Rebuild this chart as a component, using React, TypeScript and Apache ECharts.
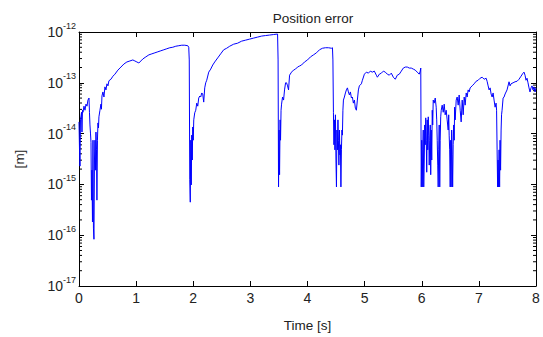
import React, { useEffect, useRef } from "react";
import * as echarts from "echarts";

const titleText = "Position error";
const xName = "Time [s]";
const yName = "[m]";
const xMin = 0;
const xMax = 8;
const yDecades = [-17, -16, -15, -14, -13, -12];
const minorMultipliers = [2, 3, 4, 5, 6, 7, 8, 9];

// [time (s), log10 of position error (m)]
const samples: [number, number][] = [
  [0.000,-13.77],[0.009,-14.32],[0.017,-14.64],[0.026,-13.73],[0.044,-13.58],[0.052,-13.97],[0.061,-13.54],[0.070,-13.58],[0.087,-13.46],[0.105,-13.54],[0.122,-13.42],[0.140,-13.46],[0.157,-13.34],[0.175,-13.30],[0.183,-13.58],[0.192,-13.83],[0.201,-13.99],[0.210,-14.17],[0.218,-15.31],[0.227,-14.72],[0.236,-15.74],[0.245,-14.13],[0.253,-15.86],[0.262,-16.08],[0.271,-14.52],[0.279,-14.13],[0.288,-14.72],[0.297,-13.97],[0.306,-14.32],[0.314,-15.31],[0.323,-14.13],[0.332,-13.79],[0.341,-13.89],[0.349,-13.67],[0.367,-13.54],[0.384,-13.42],[0.393,-13.52],[0.402,-13.26],[0.419,-13.18],[0.437,-13.28],[0.454,-13.08],[0.472,-13.14],[0.489,-13.02],[0.507,-13.06],[0.524,-12.96],[0.559,-12.93],[0.594,-12.87],[0.629,-12.83],[0.681,-12.75],[0.734,-12.69],[0.786,-12.63],[0.838,-12.59],[0.891,-12.57],[0.943,-12.55],[0.978,-12.57],[1.013,-12.59],[1.048,-12.61],[1.083,-12.57],[1.118,-12.53],[1.170,-12.49],[1.223,-12.45],[1.275,-12.43],[1.328,-12.41],[1.380,-12.39],[1.432,-12.37],[1.485,-12.35],[1.537,-12.33],[1.590,-12.31],[1.642,-12.30],[1.694,-12.28],[1.747,-12.27],[1.799,-12.26],[1.852,-12.26],[1.904,-12.27],[1.921,-12.30],[1.930,-12.55],
  [1.939,-14.91],[1.948,-15.35],[1.956,-14.13],[1.965,-15.01],[1.974,-14.03],[1.983,-14.52],[1.991,-13.87],[2.000,-14.13],[2.009,-13.73],[2.026,-13.59],[2.044,-13.54],[2.061,-13.40],[2.079,-13.46],[2.096,-13.30],[2.114,-13.26],[2.131,-13.28],[2.148,-13.20],[2.166,-13.22],[2.183,-13.38],[2.201,-13.10],[2.218,-13.00],[2.236,-12.95],[2.271,-12.79],[2.306,-12.73],[2.341,-12.65],[2.376,-12.59],[2.428,-12.51],[2.480,-12.43],[2.533,-12.35],[2.585,-12.32],[2.638,-12.28],[2.707,-12.24],[2.777,-12.22],[2.847,-12.18],[2.917,-12.16],[2.987,-12.14],[3.057,-12.12],[3.127,-12.10],[3.197,-12.08],[3.266,-12.07],[3.336,-12.06],[3.406,-12.05],[3.476,-12.04],[3.485,-12.55],
  [3.493,-15.05],[3.502,-13.93],[3.511,-14.81],[3.520,-13.73],[3.528,-14.13],[3.537,-13.54],[3.546,-13.42],[3.563,-13.28],[3.581,-13.34],[3.598,-13.14],[3.616,-13.00],[3.633,-13.00],[3.651,-13.06],[3.668,-13.14],[3.686,-12.85],[3.721,-12.79],[3.755,-12.75],[3.790,-12.73],[3.825,-12.69],[3.860,-12.67],[3.895,-12.65],[3.948,-12.59],[4.000,-12.55],[4.052,-12.49],[4.105,-12.45],[4.157,-12.41],[4.210,-12.35],[4.262,-12.32],[4.314,-12.31],[4.367,-12.31],[4.419,-12.32],[4.437,-12.31],[4.445,-12.55],
  [4.454,-13.59],[4.463,-14.22],[4.472,-13.73],[4.480,-14.32],[4.489,-13.63],[4.498,-14.52],[4.507,-15.05],[4.515,-13.93],[4.524,-14.32],[4.533,-13.73],[4.541,-14.13],[4.550,-14.62],[4.559,-13.93],[4.568,-14.42],[4.576,-14.22],[4.585,-15.05],[4.594,-14.32],[4.603,-13.93],[4.611,-14.03],[4.620,-13.54],[4.629,-13.34],[4.646,-13.28],[4.664,-13.20],[4.681,-13.14],[4.699,-13.10],[4.716,-13.18],[4.734,-13.24],[4.751,-13.18],[4.769,-13.30],[4.786,-13.28],[4.803,-13.40],[4.821,-13.34],[4.838,-13.50],[4.856,-13.54],[4.873,-13.34],[4.891,-13.14],[4.908,-13.06],[4.943,-13.02],[4.961,-12.95],[4.996,-12.83],[5.031,-12.79],[5.066,-12.81],[5.100,-12.77],[5.135,-12.79],[5.170,-12.77],[5.205,-12.85],[5.223,-12.89],[5.258,-12.83],[5.293,-12.81],[5.328,-12.77],[5.362,-12.79],[5.397,-12.83],[5.432,-12.85],[5.467,-12.81],[5.502,-12.89],[5.537,-12.93],[5.572,-12.85],[5.607,-12.83],[5.642,-12.77],[5.677,-12.71],[5.712,-12.69],[5.747,-12.69],[5.782,-12.71],[5.817,-12.71],[5.852,-12.73],[5.886,-12.75],[5.921,-12.79],[5.956,-12.83],[5.974,-12.77],[5.983,-12.71],
  [5.991,-15.05],[6.000,-14.13],[6.009,-15.05],[6.017,-14.32],[6.026,-13.93],[6.035,-15.05],[6.044,-14.52],[6.052,-13.83],[6.061,-14.22],[6.070,-13.69],[6.079,-14.13],[6.087,-14.76],[6.096,-13.73],[6.105,-14.32],[6.114,-13.67],[6.122,-14.03],[6.131,-14.62],[6.140,-14.13],[6.149,-13.83],[6.157,-14.81],[6.166,-13.93],[6.175,-14.52],[6.184,-13.54],[6.192,-13.83],[6.201,-13.34],[6.218,-13.40],[6.236,-13.30],[6.253,-13.48],[6.262,-13.73],[6.271,-14.13],[6.280,-14.62],[6.288,-15.05],[6.297,-14.32],[6.306,-13.83],[6.315,-15.05],[6.323,-14.13],[6.332,-13.67],[6.341,-13.54],[6.358,-13.44],[6.376,-13.58],[6.393,-13.42],[6.410,-13.63],[6.428,-13.54],[6.445,-13.73],[6.463,-13.93],[6.472,-13.63],[6.480,-14.03],[6.489,-14.32],[6.498,-15.05],[6.507,-14.13],[6.515,-15.05],[6.524,-13.93],[6.533,-14.42],[6.541,-15.05],[6.550,-14.22],[6.559,-13.83],[6.568,-14.13],[6.576,-13.48],[6.585,-13.73],[6.603,-13.34],[6.620,-13.28],[6.638,-13.44],[6.655,-13.24],[6.673,-13.54],[6.690,-13.77],[6.708,-13.34],[6.725,-13.63],[6.743,-13.28],[6.760,-13.44],[6.778,-13.20],[6.795,-13.28],[6.812,-13.14],[6.830,-13.18],[6.847,-13.10],[6.882,-13.06],[6.917,-13.02],[6.952,-12.97],[6.987,-12.95],[7.022,-12.91],[7.057,-12.89],[7.092,-12.93],[7.127,-12.91],[7.144,-12.97],[7.162,-13.06],[7.179,-13.14],[7.197,-13.10],[7.214,-13.22],[7.232,-13.28],[7.249,-13.20],[7.266,-13.34],[7.284,-13.48],[7.301,-13.40],[7.310,-13.54],[7.319,-14.32],[7.328,-15.05],[7.336,-14.52],[7.345,-15.05],[7.354,-14.32],[7.363,-15.05],[7.371,-14.13],[7.380,-14.72],[7.389,-13.93],[7.397,-13.63],[7.406,-13.54],[7.424,-13.30],[7.441,-13.28],[7.459,-13.22],[7.493,-13.14],[7.528,-12.98],[7.546,-13.06],[7.563,-13.02],[7.598,-13.00],[7.633,-12.98],[7.668,-12.97],[7.703,-12.93],[7.738,-12.87],[7.773,-12.81],[7.790,-12.79],[7.808,-12.85],[7.825,-12.95],[7.843,-12.91],[7.860,-13.00],[7.878,-13.10],[7.895,-13.18],[7.913,-13.10],[7.930,-13.06],[7.948,-13.14],[7.965,-13.08],[7.983,-13.18],[8.000,-13.10]
];

const FONT = "'Liberation Sans', Arial, Helvetica, sans-serif";
const TEXT = "#222";

export default function App() {
  const ref = useRef<HTMLDivElement>(null);
  useEffect(() => {
    if (!ref.current) return;
    const chart = echarts.init(ref.current, null, { renderer: "svg" });
    const lineData = samples.map(([t, e]) => [t, Math.pow(10, e)]);
    const minorData: number[][] = [];
    yDecades.slice(0, -1).forEach((d) => {
      minorMultipliers.forEach((m) => minorData.push([xMin, m * Math.pow(10, d)]));
    });
    const yMin = Math.pow(10, yDecades[0]);
    const yMax = Math.pow(10, yDecades[yDecades.length - 1]);
    const tickStyle = { show: true, inside: true, length: 5, lineStyle: { color: "#000", width: 1 } };
    const axisLine = { show: true, onZero: false, lineStyle: { color: "#000", width: 1 } };
    chart.setOption({
      animation: false,
      backgroundColor: "#fff",
      title: {
        text: titleText,
        left: 308,
        top: 6,
        textAlign: "center",
        textStyle: { fontFamily: FONT, fontSize: 13.5, fontWeight: "normal", color: TEXT },
      },
      grid: { left: 79, right: 7, top: 32, bottom: 51, show: false },
      xAxis: [
        {
          type: "value",
          min: xMin,
          max: xMax,
          interval: 1,
          position: "bottom",
          name: xName,
          nameLocation: "middle",
          nameGap: 32,
          nameTextStyle: { fontFamily: FONT, fontSize: 13.5, color: TEXT },
          axisLine,
          axisTick: tickStyle,
          splitLine: { show: false },
          axisLabel: { margin: 5, fontFamily: FONT, fontSize: 14, color: TEXT },
        },
        {
          type: "value",
          min: xMin,
          max: xMax,
          interval: 1,
          position: "top",
          axisLine,
          axisTick: tickStyle,
          splitLine: { show: false },
          axisLabel: { show: false },
        },
      ],
      yAxis: [
        {
          type: "log",
          logBase: 10,
          min: yMin,
          max: yMax,
          splitNumber: 5,
          position: "left",
          name: yName,
          nameLocation: "middle",
          nameGap: 53,
          nameRotate: 90,
          nameTextStyle: { fontFamily: FONT, fontSize: 13.5, color: TEXT },
          axisLine,
          axisTick: tickStyle,
          splitLine: { show: false },
          axisLabel: {
            margin: 3,
            formatter: (v: number) => `{b|10}{e|${Math.round(Math.log10(v))}}`,
            rich: {
              b: { fontFamily: FONT, fontSize: 14, color: TEXT, padding: [4, 0, 4, 0] },
              e: { fontFamily: FONT, fontSize: 9, color: TEXT, verticalAlign: "top", lineHeight: 9 },
            },
          },
        },
        {
          type: "log",
          logBase: 10,
          min: yMin,
          max: yMax,
          splitNumber: 5,
          position: "right",
          axisLine,
          axisTick: tickStyle,
          splitLine: { show: false },
          axisLabel: { show: false },
        },
      ],
      series: [
        {
          type: "line",
          data: lineData,
          showSymbol: false,
          symbol: "none",
          lineStyle: { color: "#0000ff", width: 1 },
          xAxisIndex: 0,
          yAxisIndex: 0,
        },
        {
          type: "custom",
          xAxisIndex: 0,
          yAxisIndex: 0,
          data: minorData,
          silent: true,
          renderItem: (params: any, api: any) => {
            const y = api.value(1);
            const l = api.coord([xMin, y]);
            const r = api.coord([xMax, y]);
            const st = { stroke: "#000", lineWidth: 1 };
            return {
              type: "group",
              children: [
                { type: "line", shape: { x1: l[0], y1: l[1], x2: l[0] + 3, y2: l[1] }, style: st },
                { type: "line", shape: { x1: r[0] - 3, y1: r[1], x2: r[0], y2: r[1] }, style: st },
              ],
            };
          },
        },
      ],
    });
    return () => chart.dispose();
  }, []);
  return (
    <div
      ref={ref}
      style={{ position: "fixed", left: 0, top: 0, width: 543, height: 337, background: "#fff" }}
    />
  );
}
